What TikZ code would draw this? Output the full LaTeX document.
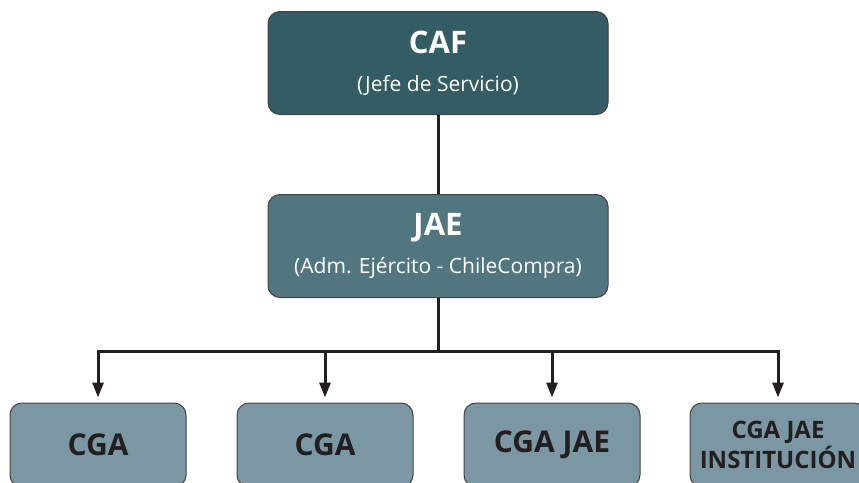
\documentclass[tikz,border=0pt]{standalone}
\usepackage{fontspec}
\setmainfont{Open Sans}
\usepackage{xcolor}
\usetikzlibrary{arrows.meta}
\definecolor{cafcol}{HTML}{335C64}
\definecolor{jaecol}{HTML}{527680}
\definecolor{cgacol}{HTML}{7A97A3}
\definecolor{ink}{HTML}{231F20}

\begin{document}
\begin{tikzpicture}[x=1pt,y=-1pt,
  box/.style={draw=ink!85,line width=1pt,rounded corners=12pt,align=center,inner sep=0pt},
  topbox/.style={box,minimum width=340pt,minimum height=103pt,text=white,
    font=\fontsize{21}{38}\selectfont},
  cgabox/.style={box,fill=cgacol,minimum width=176pt,minimum height=84pt,text=ink,
    font=\fontsize{30}{34}\selectfont\bfseries},
  link/.style={draw=ink,line width=3pt},
  arrow/.style={link,-{Triangle[length=15pt,width=11pt]},shorten >=5pt}]
\fill[white] (0,0) rectangle (859,482);
\useasboundingbox (0,0) rectangle (859,482);

% top levels
\node[topbox,fill=cafcol] (caf) at (438,63)
  {{\fontsize{31}{36}\selectfont\bfseries CAF}\\(Jefe de Servicio)};
\node[topbox,fill=jaecol] (jae) at (438,246)
  {{\fontsize{31}{36}\selectfont\bfseries JAE}\\(Adm. Ejército - ChileCompra)};

% bottom level
\node[cgabox] (cga1) at (98,445) {CGA};
\node[cgabox] (cga2) at (325,445) {CGA};
\node[cgabox] (cga3) at (552,445) {CGA JAE};
\node[cgabox,font=\fontsize{24}{30}\selectfont\bfseries] (cga4) at (778,445) {CGA JAE\\INSTITUCIÓN};

% connectors
\coordinate (bus) at (438,351);
\draw[link] (caf) -- (jae);
\draw[arrow] (jae.south) -- (bus) -| (cga1.north);
\draw[arrow] (jae.south) -- (bus) -| (cga2.north);
\draw[arrow] (jae.south) -- (bus) -| (cga3.north);
\draw[arrow] (jae.south) -- (bus) -| (cga4.north);
\end{tikzpicture}
\end{document}
